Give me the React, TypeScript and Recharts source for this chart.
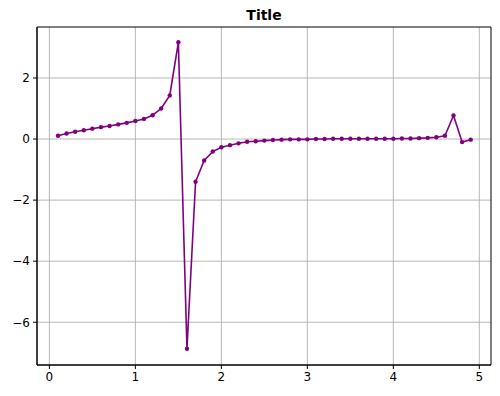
import React from 'react';
import { LineChart, Line, XAxis, YAxis, CartesianGrid, ReferenceArea } from 'recharts';

const xValues = [0.1,0.2,0.3,0.4,0.5,0.6,0.7,0.8,0.9,1.0,1.1,1.2,1.3,1.4,1.5,1.6,1.7,1.8,1.9,2.0,2.1,2.2,2.3,2.4,2.5,2.6,2.7,2.8,2.9,3.0,3.1,3.2,3.3,3.4,3.5,3.6,3.7,3.8,3.9,4.0,4.1,4.2,4.3,4.4,4.5,4.6,4.7,4.8,4.9];
const yValues = [0.11,0.18,0.24,0.29,0.34,0.39,0.43,0.48,0.53,0.59,0.66,0.78,1.0,1.43,3.17,-6.87,-1.4,-0.7,-0.41,-0.27,-0.2,-0.14,-0.09,-0.07,-0.05,-0.03,-0.02,-0.01,-0.01,-0.01,0.0,0.0,0.01,0.01,0.01,0.01,0.01,0.01,0.01,0.01,0.02,0.02,0.03,0.04,0.06,0.11,0.77,-0.1,-0.02];
const xTicks = [0,1,2,3,4,5];
const yTicks = [-6,-4,-2,0,2];

const data = xValues.map((x, i) => ({ x, y: yValues[i] }));
const fmt = (v: number) => String(v).replace('-', '\u2212');
const font = 'DejaVu Sans, sans-serif';
const xDom: [number, number] = [-0.144, 5.136];
const yDom: [number, number] = [-7.4, 3.67];

export default function App() {
  return (
    <div style={{ position: 'absolute', left: 0, top: 0, width: 500, height: 396, background: '#fff' }}>
      <div style={{ position: 'absolute', left: 0, width: 528, top: 7, textAlign: 'center', fontFamily: font, fontWeight: 'bold', fontSize: 14, color: '#000' }}>Title</div>
      <LineChart width={500} height={396} data={data} margin={{ top: 27, right: 9, bottom: 0, left: 0 }}>
        <CartesianGrid stroke="#b0b0b0" strokeWidth={0.9} horizontalValues={yTicks} verticalValues={xTicks} />
        <XAxis type="number" dataKey="x" domain={xDom} ticks={xTicks} allowDataOverflow
          height={31} stroke="#000" tickSize={4} tickMargin={3}
          tick={{ fill: '#000', fontSize: 12, fontFamily: font }} tickFormatter={fmt} />
        <YAxis type="number" domain={yDom} ticks={yTicks} allowDataOverflow
          width={37} stroke="#000" tickSize={4} tickMargin={3}
          tick={{ fill: '#000', fontSize: 12, fontFamily: font }} tickFormatter={fmt} />
        <ReferenceArea x1={xDom[0]} x2={xDom[1]} y1={yDom[0]} y2={yDom[1]} fill="none" fillOpacity={0} stroke="#000" strokeWidth={1} ifOverflow="visible" />
        <Line dataKey="y" stroke="#800080" strokeWidth={1.6} isAnimationActive={false}
          dot={{ r: 2.2, fill: '#800080', stroke: '#800080', strokeWidth: 0 }} />
      </LineChart>
    </div>
  );
}
